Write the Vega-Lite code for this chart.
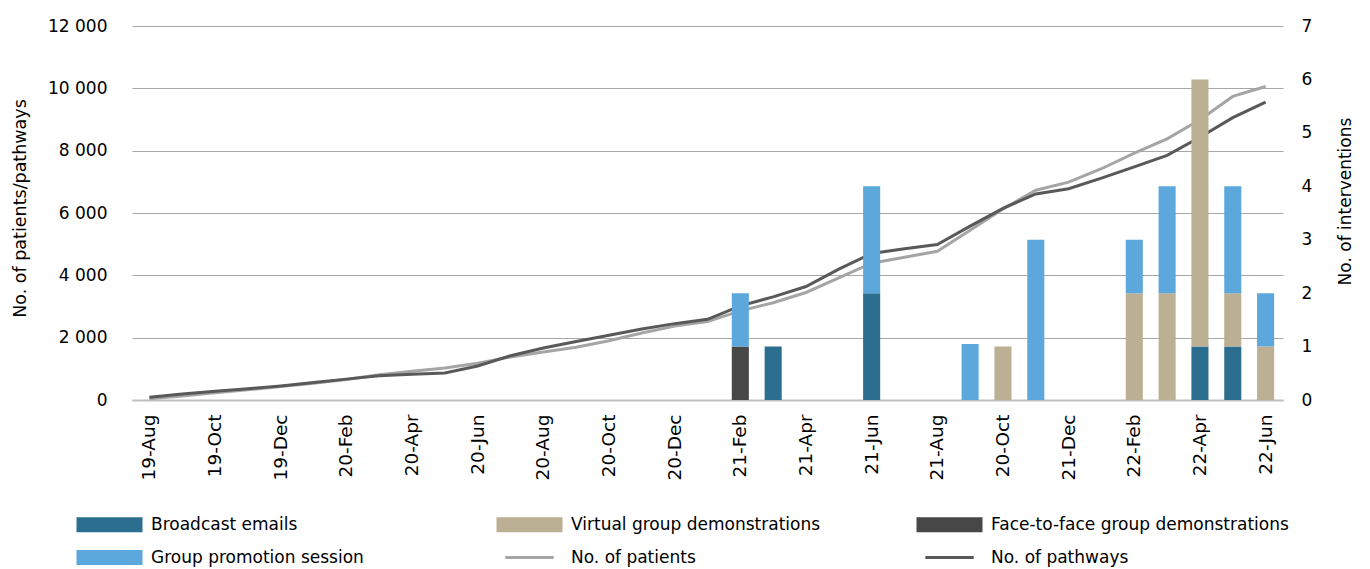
{
  "$schema": "https://vega.github.io/schema/vega-lite/v6.json",
  "width": 1151,
  "height": 374,
  "autosize": {"type": "none"},
  "padding": {"left": 132, "top": 26, "right": 87, "bottom": 169},
  "background": "white",
  "config": {
    "view": {"stroke": null},
    "axis": {"labelFont": "DejaVu Sans", "labelFontSize": 17, "labelColor": "#000", "titleFont": "DejaVu Sans", "titleFontSize": 17, "titleFontWeight": "normal", "titleColor": "#000", "ticks": false, "domain": false},
    "legend": {"labelFont": "DejaVu Sans", "labelFontSize": 17, "labelColor": "#000"}
  },
  "layer": [
    {
      "data": {"values": [
        {"month": "19-Aug", "series": "No. of patients", "value": 40}, {"month": "19-Aug", "series": "No. of pathways", "value": 90},
        {"month": "19-Sep", "series": "No. of patients", "value": 130}, {"month": "19-Sep", "series": "No. of pathways", "value": 190},
        {"month": "19-Oct", "series": "No. of patients", "value": 230}, {"month": "19-Oct", "series": "No. of pathways", "value": 280},
        {"month": "19-Nov", "series": "No. of patients", "value": 330}, {"month": "19-Nov", "series": "No. of pathways", "value": 360},
        {"month": "19-Dec", "series": "No. of patients", "value": 430}, {"month": "19-Dec", "series": "No. of pathways", "value": 450},
        {"month": "20-Jan", "series": "No. of patients", "value": 540}, {"month": "20-Jan", "series": "No. of pathways", "value": 560},
        {"month": "20-Feb", "series": "No. of patients", "value": 660}, {"month": "20-Feb", "series": "No. of pathways", "value": 670},
        {"month": "20-Mar", "series": "No. of patients", "value": 810}, {"month": "20-Mar", "series": "No. of pathways", "value": 780},
        {"month": "20-Apr", "series": "No. of patients", "value": 920}, {"month": "20-Apr", "series": "No. of pathways", "value": 830},
        {"month": "20-May", "series": "No. of patients", "value": 1030}, {"month": "20-May", "series": "No. of pathways", "value": 870},
        {"month": "20-Jun", "series": "No. of patients", "value": 1180}, {"month": "20-Jun", "series": "No. of pathways", "value": 1090},
        {"month": "20-Jul", "series": "No. of patients", "value": 1380}, {"month": "20-Jul", "series": "No. of pathways", "value": 1420},
        {"month": "20-Aug", "series": "No. of patients", "value": 1540}, {"month": "20-Aug", "series": "No. of pathways", "value": 1670},
        {"month": "20-Sep", "series": "No. of patients", "value": 1690}, {"month": "20-Sep", "series": "No. of pathways", "value": 1880},
        {"month": "20-Oct", "series": "No. of patients", "value": 1900}, {"month": "20-Oct", "series": "No. of pathways", "value": 2080},
        {"month": "20-Nov", "series": "No. of patients", "value": 2150}, {"month": "20-Nov", "series": "No. of pathways", "value": 2280},
        {"month": "20-Dec", "series": "No. of patients", "value": 2370}, {"month": "20-Dec", "series": "No. of pathways", "value": 2450},
        {"month": "21-Jan", "series": "No. of patients", "value": 2520}, {"month": "21-Jan", "series": "No. of pathways", "value": 2590},
        {"month": "21-Feb", "series": "No. of patients", "value": 2860}, {"month": "21-Feb", "series": "No. of pathways", "value": 3020},
        {"month": "21-Mar", "series": "No. of patients", "value": 3120}, {"month": "21-Mar", "series": "No. of pathways", "value": 3310},
        {"month": "21-Apr", "series": "No. of patients", "value": 3450}, {"month": "21-Apr", "series": "No. of pathways", "value": 3640},
        {"month": "21-May", "series": "No. of patients", "value": 3920}, {"month": "21-May", "series": "No. of pathways", "value": 4200},
        {"month": "21-Jun", "series": "No. of patients", "value": 4390}, {"month": "21-Jun", "series": "No. of pathways", "value": 4700},
        {"month": "21-Jul", "series": "No. of patients", "value": 4580}, {"month": "21-Jul", "series": "No. of pathways", "value": 4850},
        {"month": "21-Aug", "series": "No. of patients", "value": 4770}, {"month": "21-Aug", "series": "No. of pathways", "value": 4990},
        {"month": "21-Sep", "series": "No. of patients", "value": 5450}, {"month": "21-Sep", "series": "No. of pathways", "value": 5580},
        {"month": "21-Oct", "series": "No. of patients", "value": 6130}, {"month": "21-Oct", "series": "No. of pathways", "value": 6150},
        {"month": "21-Nov", "series": "No. of patients", "value": 6730}, {"month": "21-Nov", "series": "No. of pathways", "value": 6610},
        {"month": "21-Dec", "series": "No. of patients", "value": 6990}, {"month": "21-Dec", "series": "No. of pathways", "value": 6780},
        {"month": "22-Jan", "series": "No. of patients", "value": 7420}, {"month": "22-Jan", "series": "No. of pathways", "value": 7120},
        {"month": "22-Feb", "series": "No. of patients", "value": 7920}, {"month": "22-Feb", "series": "No. of pathways", "value": 7480},
        {"month": "22-Mar", "series": "No. of patients", "value": 8380}, {"month": "22-Mar", "series": "No. of pathways", "value": 7850},
        {"month": "22-Apr", "series": "No. of patients", "value": 8990}, {"month": "22-Apr", "series": "No. of pathways", "value": 8430},
        {"month": "22-May", "series": "No. of patients", "value": 9740}, {"month": "22-May", "series": "No. of pathways", "value": 9060},
        {"month": "22-Jun", "series": "No. of patients", "value": 10060}, {"month": "22-Jun", "series": "No. of pathways", "value": 9560}
      ]},
      "mark": {"type": "line", "strokeWidth": 3, "interpolate": "linear"},
      "encoding": {
        "x": {
          "field": "month", "type": "ordinal", "sort": null,
          "scale": {"type": "band", "paddingInner": 0.48, "paddingOuter": 0.27,
            "domain": ["19-Aug","19-Sep","19-Oct","19-Nov","19-Dec","20-Jan","20-Feb","20-Mar","20-Apr","20-May","20-Jun","20-Jul","20-Aug","20-Sep","20-Oct","20-Nov","20-Dec","21-Jan","21-Feb","21-Mar","21-Apr","21-May","21-Jun","21-Jul","21-Aug","21-Sep","21-Oct","21-Nov","21-Dec","22-Jan","22-Feb","22-Mar","22-Apr","22-May","22-Jun"]},
          "axis": {
            "title": null, "labelAngle": -90, "labelPadding": 14, "labelFontSize": 18.5, "grid": false,
            "domain": true, "domainColor": "#c0c0c0", "domainWidth": 2,
            "values": ["19-Aug","19-Oct","19-Dec","20-Feb","20-Apr","20-Jun","20-Aug","20-Oct","20-Dec","21-Feb","21-Apr","21-Jun","21-Aug","21-Oct","21-Dec","22-Feb","22-Apr","22-Jun"],
            "labelExpr": "datum.value == '21-Oct' ? '20-Oct' : datum.value"
          }
        },
        "y": {
          "field": "value", "type": "quantitative",
          "scale": {"domain": [0, 12000], "nice": false},
          "axis": {
            "title": "No. of patients/pathways", "values": [0, 2000, 4000, 6000, 8000, 10000, 12000],
            "labelExpr": "replace(format(datum.value, ','), ',', ' ')",
            "grid": true, "gridColor": "#a6a6a6", "gridWidth": 1, "labelPadding": 25,
            "titleX": -112, "titleY": 182, "titleAngle": -90, "titleAlign": "center", "titleBaseline": "middle", "titleFontSize": 17.5
          }
        },
        "color": {
          "field": "series", "type": "nominal",
          "scale": {
            "domain": ["Broadcast emails", "Virtual group demonstrations", "Face-to-face group demonstrations", "Group promotion session", "No. of patients", "No. of pathways"],
            "range": ["#2c6e8f", "#bbaf94", "#474747", "#5ca8dc", "#a5a5a5", "#595959"]
          },
          "legend": {
            "title": null, "orient": "none", "legendX": -56, "legendY": 490, "direction": "horizontal",
            "columns": 3, "gridAlign": "all", "columnPadding": 47, "rowPadding": 15, "labelLimit": 500,
            "symbolSize": 256, "labelOffset": 58, "symbolStrokeWidth": 0, "symbolOpacity": 1,
            "encode": {"symbols": {"update": {
              "shape": {"signal": "datum.value === 'No. of patients' || datum.value === 'No. of pathways' ? 'M0.1,-0.19H6.15V0.19H0.1Z' : 'M-1,-0.94H7.25V0.94H-1Z'"},
              "fill": {"signal": "scale('color', datum.value)"},
              "strokeWidth": {"value": 0},
              "opacity": {"value": 1}
            }}}
          }
        }
      }
    },
    {
      "data": {"values": [
        {"month": "21-Feb", "series": "Face-to-face group demonstrations", "value": 1},
        {"month": "21-Feb", "series": "Group promotion session", "value": 1},
        {"month": "21-Mar", "series": "Broadcast emails", "value": 1},
        {"month": "21-Jun", "series": "Broadcast emails", "value": 2},
        {"month": "21-Jun", "series": "Group promotion session", "value": 2},
        {"month": "21-Sep", "series": "Group promotion session", "value": 1.05},
        {"month": "21-Oct", "series": "Virtual group demonstrations", "value": 1},
        {"month": "21-Nov", "series": "Group promotion session", "value": 3},
        {"month": "22-Feb", "series": "Virtual group demonstrations", "value": 2},
        {"month": "22-Feb", "series": "Group promotion session", "value": 1},
        {"month": "22-Mar", "series": "Virtual group demonstrations", "value": 2},
        {"month": "22-Mar", "series": "Group promotion session", "value": 2},
        {"month": "22-Apr", "series": "Broadcast emails", "value": 1},
        {"month": "22-Apr", "series": "Virtual group demonstrations", "value": 5},
        {"month": "22-May", "series": "Broadcast emails", "value": 1},
        {"month": "22-May", "series": "Virtual group demonstrations", "value": 1},
        {"month": "22-May", "series": "Group promotion session", "value": 2},
        {"month": "22-Jun", "series": "Virtual group demonstrations", "value": 1},
        {"month": "22-Jun", "series": "Group promotion session", "value": 1}
      ]},
      "transform": [
        {"calculate": "indexof(['Broadcast emails', 'Virtual group demonstrations', 'Face-to-face group demonstrations', 'Group promotion session'], datum.series)", "as": "stackRank"}
      ],
      "mark": {"type": "bar"},
      "encoding": {
        "x": {"field": "month", "type": "ordinal", "sort": null},
        "y": {
          "field": "value", "type": "quantitative", "stack": "zero",
          "scale": {"domain": [0, 7], "nice": false},
          "axis": {
            "title": "No. of interventions", "orient": "right", "values": [0, 1, 2, 3, 4, 5, 6, 7],
            "grid": false, "labelPadding": 18,
            "titleX": 62, "titleY": 175, "titleAngle": -90, "titleAlign": "center", "titleBaseline": "middle"
          }
        },
        "color": {"field": "series", "type": "nominal"},
        "order": {"field": "stackRank", "type": "quantitative", "sort": "ascending"}
      }
    }
  ],
  "resolve": {"scale": {"y": "independent"}}
}
